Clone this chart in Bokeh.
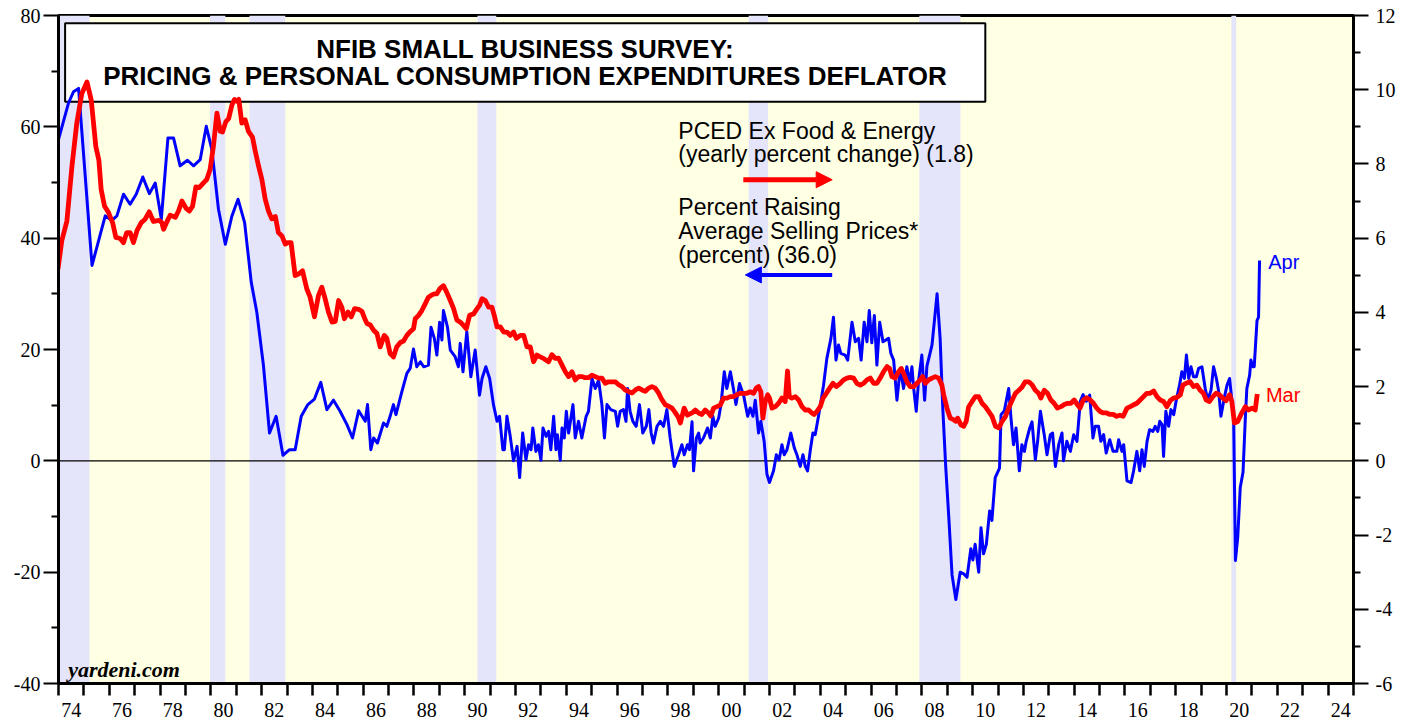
from bokeh.plotting import figure
from bokeh.models import (Range1d, LinearAxis, FixedTicker, CustomJSTickFormatter,
                          BoxAnnotation, Span, Label, Arrow, NormalHead, ColumnDataSource)
from bokeh.embed import file_html
from bokeh.resources import INLINE

# ---------------- data ----------------
# NFIB: percent raising average selling prices (left axis, percent)
blue_dates = [1973.98, 1974.39, 1974.59, 1974.79, 1975.32, 1975.84, 1976.10, 1976.30, 1976.56, 1976.82,
              1977.06, 1977.32, 1977.58, 1977.81, 1978.05, 1978.31, 1978.53, 1978.79, 1979.08, 1979.32,
              1979.58, 1979.82, 1980.04, 1980.30, 1980.57, 1980.83, 1981.07, 1981.33, 1981.59, 1981.81,
              1982.07, 1982.31, 1982.57, 1982.84, 1983.10, 1983.32, 1983.56, 1983.82, 1984.08, 1984.33,
              1984.57, 1984.83, 1985.09, 1985.36, 1985.58, 1985.82, 1986.08, 1986.17, 1986.30, 1986.41,
              1986.56, 1986.80, 1986.93, 1987.06, 1987.19, 1987.29, 1987.52, 1987.72, 1987.85, 1987.98,
              1988.11, 1988.25, 1988.38, 1988.57, 1988.67, 1988.80, 1988.90, 1989.01, 1989.10, 1989.16,
              1989.32, 1989.43, 1989.62, 1989.75, 1989.82, 1989.93, 1990.08, 1990.24, 1990.41, 1990.58,
              1990.68, 1990.83, 1990.98, 1991.13, 1991.27, 1991.37, 1991.50, 1991.56, 1991.66, 1991.79,
              1991.92, 1992.06, 1992.16, 1992.28, 1992.41, 1992.51, 1992.61, 1992.68, 1992.80, 1992.90,
              1993.00, 1993.08, 1993.20, 1993.30, 1993.39, 1993.50, 1993.59, 1993.65, 1993.76, 1993.83,
              1993.92, 1994.00, 1994.09, 1994.26, 1994.35, 1994.48, 1994.61, 1994.78, 1994.87, 1995.01,
              1995.14, 1995.27, 1995.40, 1995.50, 1995.60, 1995.75, 1995.93, 1996.02, 1996.12, 1996.25,
              1996.35, 1996.41, 1996.51, 1996.62, 1996.75, 1996.88, 1997.01, 1997.15, 1997.25, 1997.34,
              1997.43, 1997.57, 1997.70, 1997.83, 1997.96, 1998.09, 1998.25, 1998.42, 1998.55, 1998.64,
              1998.77, 1998.85, 1998.95, 1999.01, 1999.12, 1999.21, 1999.27, 1999.40, 1999.56, 1999.67,
              1999.77, 1999.86, 2000.00, 2000.09, 2000.22, 2000.32, 2000.46, 2000.59, 2000.68, 2000.82,
              2000.98, 2001.14, 2001.24, 2001.35, 2001.44, 2001.57, 2001.66, 2001.79, 2001.90, 2002.00,
              2002.16, 2002.27, 2002.38, 2002.49, 2002.58, 2002.69, 2002.84, 2002.98, 2003.08, 2003.21,
              2003.32, 2003.41, 2003.50, 2003.61, 2003.71, 2003.80, 2003.93, 2004.13, 2004.26, 2004.42,
              2004.52, 2004.62, 2004.72, 2004.81, 2004.98, 2005.08, 2005.25, 2005.38, 2005.51, 2005.61,
              2005.73, 2005.84, 2005.93, 2006.03, 2006.13, 2006.23, 2006.34, 2006.47, 2006.69, 2006.78,
              2006.89, 2007.02, 2007.15, 2007.28, 2007.41, 2007.52, 2007.61, 2007.68, 2007.78, 2007.87,
              2008.00, 2008.11, 2008.20, 2008.40, 2008.60, 2008.72, 2008.83, 2008.94, 2009.06, 2009.19,
              2009.34, 2009.51, 2009.65, 2009.78, 2009.93, 2010.01, 2010.10, 2010.24, 2010.33, 2010.43,
              2010.54, 2010.67, 2010.76, 2010.89, 2011.06, 2011.12, 2011.25, 2011.42, 2011.51, 2011.61,
              2011.71, 2011.84, 2011.94, 2012.04, 2012.11, 2012.25, 2012.34, 2012.47, 2012.56, 2012.67,
              2012.82, 2012.93, 2013.06, 2013.15, 2013.26, 2013.39, 2013.52, 2013.58, 2013.71, 2013.85,
              2013.98, 2014.11, 2014.24, 2014.35, 2014.48, 2014.61, 2014.74, 2014.83, 2014.96, 2015.05,
              2015.16, 2015.26, 2015.40, 2015.53, 2015.68, 2015.75, 2015.88, 2015.95, 2016.08, 2016.24,
              2016.34, 2016.47, 2016.58, 2016.67, 2016.76, 2016.87, 2016.97, 2017.10, 2017.19, 2017.29,
              2017.37, 2017.46, 2017.52, 2017.61, 2017.72, 2017.81, 2017.92, 2018.02, 2018.15, 2018.24,
              2018.34, 2018.42, 2018.51, 2018.60, 2018.70, 2018.81, 2018.90, 2019.03, 2019.16, 2019.26,
              2019.39, 2019.49, 2019.60, 2019.69, 2019.78, 2019.91, 2020.02, 2020.12, 2020.28, 2020.35,
              2020.44, 2020.54, 2020.65, 2020.74, 2020.80, 2020.91, 2020.96, 2021.04, 2021.09, 2021.20,
              2021.26, 2021.30]
blue_vals = [57.4, 64.2, 66.3, 66.9, 35.1, 44.0, 43.2, 44.0, 47.9, 46.1,
             47.9, 51.0, 48.0, 49.9, 43.4, 58.0, 58.0, 53.0, 54.0, 53.0,
             54.1, 60.1, 55.9, 45.2, 38.9, 44.0, 47.0, 42.8, 32.1, 26.7,
             17.2, 5.0, 8.0, 1.0, 2.0, 2.0, 8.0, 10.1, 11.1, 14.1,
             9.2, 10.9, 8.9, 6.5, 4.1, 9.0, 7.1, 10.1, 2.0, 4.1,
             3.2, 6.8, 6.2, 8.0, 10.1, 8.3, 12.4, 15.7, 16.6, 20.1,
             16.9, 17.8, 16.9, 17.2, 24.0, 22.0, 19.0, 24.9, 21.7, 27.0,
             24.0, 19.9, 18.7, 16.9, 21.1, 16.0, 23.2, 15.1, 19.9, 11.8,
             14.8, 16.9, 14.8, 10.1, 7.1, 8.0, 2.0, 2.0, 8.0, 4.4,
             0.0, 2.6, -3.0, 5.0, 0.2, 2.9, 2.0, 5.9, 1.7, 2.9,
             0.1, 5.9, 4.4, 5.3, 2.0, 8.0, 2.0, 4.7, 0.1, 5.9,
             4.1, 8.9, 5.0, 10.1, 4.1, 7.1, 4.1, 8.0, 8.9, 14.8,
             13.0, 14.5, 10.1, 4.1, 10.1, 9.2, 8.9, 6.2, 8.9, 9.2,
             7.1, 13.0, 8.9, 7.1, 6.2, 10.1, 5.0, 6.2, 9.2, 5.0,
             3.2, 6.2, 7.1, 6.2, 9.2, 4.1, -1.0, 1.1, 2.9, 1.1,
             2.9, 2.0, 7.0, -1.8, 4.1, 5.0, 3.2, 4.1, 5.9, 4.1,
             8.0, 6.2, 7.7, 10.1, 16.0, 13.0, 16.0, 12.7, 10.1, 13.9,
             11.8, 8.0, 9.5, 8.0, 10.9, 5.0, 7.1, 3.5, -2.4, -3.9,
             -1.8, 1.1, 0.2, 2.9, 1.1, 2.0, 5.0, 2.3, 1.1, -1.0,
             1.1, -1.0, -1.8, 2.0, 5.0, 4.7, 8.0, 13.6, 18.4, 22.0,
             25.8, 18.1, 20.8, 19.3, 19.0, 18.1, 24.9, 21.4, 22.0, 18.1,
             24.9, 21.4, 27.0, 21.2, 26.1, 17.2, 24.9, 21.4, 22.0, 19.3,
             18.1, 10.9, 16.6, 13.0, 16.9, 14.0, 16.9, 13.0, 8.9, 14.3,
             19.0, 10.9, 17.0, 20.8, 30.0, 22.0, 9.0, -1.0, -10.0, -20.5,
             -24.9, -20.0, -20.3, -20.9, -15.8, -17.8, -15.0, -20.0, -12.0, -16.7,
             -15.0, -9.0, -10.7, -3.0, -1.3, 8.3, 9.0, 13.0, 7.7, 2.9,
             5.9, -1.8, 2.9, 1.7, 3.5, 5.9, 7.0, 0.2, 3.5, 8.9,
             4.7, 1.1, 4.7, 5.0, -1.0, 2.9, 5.0, 0.0, 3.5, 1.7,
             4.7, 3.5, 10.7, 11.9, 10.7, 11.8, 4.1, 6.2, 6.2, 3.5,
             4.7, 1.4, 3.8, 1.7, 1.7, 3.8, 1.7, 2.9, -3.6, -3.9,
             -1.8, 1.7, -1.8, 2.0, -1.0, 3.5, 5.6, 5.3, 6.2, 5.3,
             7.1, 6.5, 0.8, 8.9, 6.2, 9.2, 8.3, 10.9, 13.6, 16.0,
             14.8, 19.0, 14.8, 16.9, 15.1, 15.1, 16.6, 16.9, 13.0, 10.9,
             12.7, 16.9, 14.8, 12.5, 8.0, 11.3, 13.6, 14.8, 7.7, -17.9,
             -13.8, -4.8, -2.0, 7.7, 13.0, 15.4, 18.1, 16.9, 16.9, 25.2,
             25.8, 36.0]

# Core PCE deflator, yearly percent change (right axis, percent)
red_dates = [1973.98, 1974.13, 1974.33, 1974.53, 1974.72, 1974.92, 1975.12, 1975.29, 1975.47, 1975.59,
             1975.68, 1975.81, 1975.97, 1976.13, 1976.26, 1976.43, 1976.56, 1976.69, 1976.82, 1976.95,
             1977.09, 1977.26, 1977.41, 1977.57, 1977.74, 1977.96, 1978.07, 1978.14, 1978.28, 1978.40,
             1978.60, 1978.73, 1978.86, 1979.02, 1979.15, 1979.28, 1979.41, 1979.54, 1979.71, 1979.84,
             1979.97, 1980.10, 1980.24, 1980.37, 1980.46, 1980.59, 1980.70, 1980.83, 1980.93, 1981.03,
             1981.10, 1981.22, 1981.35, 1981.48, 1981.64, 1981.75, 1981.88, 1982.01, 1982.14, 1982.27,
             1982.40, 1982.54, 1982.66, 1982.80, 1982.93, 1983.03, 1983.16, 1983.32, 1983.45, 1983.61,
             1983.78, 1983.91, 1984.08, 1984.24, 1984.37, 1984.50, 1984.63, 1984.77, 1984.90, 1985.03,
             1985.16, 1985.26, 1985.40, 1985.53, 1985.66, 1985.82, 1985.95, 1986.08, 1986.15, 1986.28,
             1986.41, 1986.54, 1986.67, 1986.83, 1986.93, 1987.06, 1987.19, 1987.32, 1987.46, 1987.59,
             1987.72, 1987.85, 1987.98, 1988.05, 1988.18, 1988.31, 1988.44, 1988.57, 1988.70, 1988.80,
             1988.90, 1989.03, 1989.16, 1989.29, 1989.43, 1989.56, 1989.69, 1989.82, 1989.95, 1990.06,
             1990.19, 1990.35, 1990.48, 1990.58, 1990.68, 1990.81, 1990.94, 1991.07, 1991.16, 1991.27,
             1991.40, 1991.53, 1991.66, 1991.79, 1991.92, 1992.03, 1992.19, 1992.32, 1992.45, 1992.58,
             1992.71, 1992.84, 1992.97, 1993.10, 1993.30, 1993.43, 1993.56, 1993.69, 1993.83, 1993.96,
             1994.09, 1994.22, 1994.35, 1994.48, 1994.61, 1994.74, 1994.87, 1995.01, 1995.14, 1995.27,
             1995.40, 1995.53, 1995.66, 1995.79, 1995.93, 1996.06, 1996.19, 1996.32, 1996.45, 1996.59,
             1996.72, 1996.85, 1996.98, 1997.11, 1997.24, 1997.37, 1997.50, 1997.63, 1997.77, 1997.90,
             1998.03, 1998.16, 1998.29, 1998.42, 1998.49, 1998.64, 1998.77, 1998.95, 1999.08, 1999.21,
             1999.34, 1999.47, 1999.60, 1999.69, 1999.80, 1999.93, 2000.06, 2000.19, 2000.32, 2000.46,
             2000.59, 2000.72, 2000.85, 2000.98, 2001.11, 2001.24, 2001.37, 2001.48, 2001.57, 2001.66,
             2001.74, 2001.83, 2001.93, 2002.00, 2002.10, 2002.23, 2002.36, 2002.49, 2002.62, 2002.71,
             2002.78, 2002.88, 2003.02, 2003.15, 2003.28, 2003.41, 2003.54, 2003.67, 2003.76, 2003.87,
             2004.00, 2004.11, 2004.24, 2004.37, 2004.50, 2004.63, 2004.79, 2004.92, 2005.05, 2005.18,
             2005.31, 2005.44, 2005.58, 2005.71, 2005.84, 2005.97, 2006.10, 2006.23, 2006.36, 2006.49,
             2006.63, 2006.73, 2006.82, 2006.95, 2007.08, 2007.19, 2007.28, 2007.41, 2007.54, 2007.68,
             2007.81, 2007.94, 2008.03, 2008.14, 2008.27, 2008.40, 2008.53, 2008.66, 2008.79, 2008.86,
             2008.99, 2009.12, 2009.25, 2009.34, 2009.41, 2009.54, 2009.65, 2009.75, 2009.84, 2009.98,
             2010.11, 2010.24, 2010.37, 2010.50, 2010.63, 2010.77, 2010.90, 2011.03, 2011.16, 2011.29,
             2011.42, 2011.56, 2011.69, 2011.82, 2011.95, 2012.07, 2012.21, 2012.34, 2012.47, 2012.60,
             2012.69, 2012.82, 2012.95, 2013.08, 2013.21, 2013.34, 2013.48, 2013.61, 2013.74, 2013.87,
             2014.00, 2014.13, 2014.23, 2014.36, 2014.49, 2014.63, 2014.76, 2014.89, 2015.02, 2015.15,
             2015.28, 2015.41, 2015.54, 2015.67, 2015.80, 2015.93, 2016.08, 2016.21, 2016.34, 2016.47,
             2016.60, 2016.73, 2016.86, 2016.99, 2017.13, 2017.26, 2017.39, 2017.52, 2017.65, 2017.78,
             2017.91, 2018.05, 2018.18, 2018.28, 2018.41, 2018.57, 2018.70, 2018.83, 2018.96, 2019.09,
             2019.20, 2019.33, 2019.46, 2019.59, 2019.72, 2019.85, 2019.98, 2020.12, 2020.21, 2020.31,
             2020.44, 2020.57, 2020.74, 2020.87, 2021.00, 2021.13, 2021.21]
red_vals = [5.17, 5.93, 6.46, 7.94, 9.10, 9.90, 10.21, 9.72, 8.47, 8.10,
            7.31, 6.87, 6.69, 6.42, 6.02, 5.99, 5.88, 6.15, 6.15, 5.88,
            6.20, 6.42, 6.51, 6.71, 6.45, 6.48, 6.42, 6.24, 6.46, 6.62,
            6.56, 6.74, 7.00, 6.81, 6.73, 6.86, 7.38, 7.36, 7.49, 7.58,
            7.85, 8.47, 9.37, 8.88, 8.86, 9.14, 9.22, 9.59, 9.74, 9.69,
            9.74, 9.10, 9.19, 8.88, 8.72, 8.34, 7.94, 7.58, 7.05, 6.73,
            6.52, 6.58, 6.15, 6.06, 5.84, 5.88, 5.88, 4.99, 5.03, 5.12,
            4.63, 4.41, 3.88, 4.46, 4.68, 4.37, 4.01, 3.74, 3.76, 4.32,
            4.14, 3.83, 4.01, 3.88, 4.10, 4.08, 4.03, 3.80, 3.70, 3.66,
            3.52, 3.43, 3.07, 3.38, 3.30, 2.89, 2.80, 3.07, 3.19, 3.23,
            3.38, 3.48, 3.56, 3.83, 3.92, 4.05, 4.23, 4.41, 4.47, 4.50,
            4.50, 4.65, 4.72, 4.54, 4.32, 4.10, 3.79, 3.74, 3.65, 3.56,
            3.92, 3.96, 4.10, 4.19, 4.37, 4.32, 4.14, 4.14, 3.92, 3.61,
            3.61, 3.47, 3.47, 3.38, 3.47, 3.30, 3.38, 3.38, 3.07, 3.07,
            2.67, 2.85, 2.80, 2.76, 2.67, 2.86, 2.76, 2.77, 2.58, 2.40,
            2.27, 2.40, 2.18, 2.27, 2.27, 2.24, 2.24, 2.31, 2.27, 2.23,
            2.23, 2.09, 2.13, 2.13, 2.13, 2.05, 2.00, 1.91, 1.87, 1.83,
            1.91, 1.96, 1.91, 1.87, 1.96, 2.00, 1.96, 1.83, 1.64, 1.51,
            1.47, 1.42, 1.30, 1.16, 1.02, 1.42, 1.23, 1.29, 1.37, 1.29,
            1.25, 1.37, 1.29, 1.21, 1.42, 1.46, 1.50, 1.69, 1.69, 1.73,
            1.73, 1.78, 1.82, 1.82, 1.82, 1.86, 1.82, 1.96, 2.00, 1.86,
            1.15, 1.59, 1.78, 1.69, 1.42, 1.46, 1.55, 1.69, 1.60, 2.42,
            1.73, 1.69, 1.73, 1.64, 1.46, 1.37, 1.37, 1.29, 1.25, 1.33,
            1.46, 1.69, 1.82, 1.96, 2.09, 2.00, 2.09, 2.18, 2.23, 2.25,
            2.23, 2.09, 2.04, 2.09, 2.18, 2.23, 2.09, 2.09, 2.23, 2.40,
            2.54, 2.49, 2.27, 2.23, 2.40, 2.49, 2.36, 2.13, 2.00, 2.00,
            2.09, 2.18, 2.27, 2.09, 2.18, 2.23, 2.27, 2.23, 2.04, 1.78,
            1.42, 1.15, 1.11, 1.07, 1.15, 0.97, 0.93, 1.07, 1.45, 1.60,
            1.73, 1.73, 1.55, 1.46, 1.33, 1.19, 0.93, 0.89, 1.06, 1.19,
            1.42, 1.64, 1.82, 1.90, 1.99, 2.13, 2.13, 2.05, 1.90, 1.82,
            1.69, 1.90, 1.82, 1.64, 1.55, 1.42, 1.46, 1.52, 1.55, 1.55,
            1.64, 1.51, 1.42, 1.64, 1.70, 1.64, 1.55, 1.42, 1.33, 1.29,
            1.29, 1.25, 1.25, 1.20, 1.23, 1.20, 1.42, 1.46, 1.51, 1.55,
            1.64, 1.73, 1.82, 1.82, 1.88, 1.73, 1.64, 1.60, 1.46, 1.62,
            1.69, 1.71, 1.78, 2.04, 2.09, 2.13, 2.00, 2.04, 1.90, 1.82,
            1.64, 1.60, 1.73, 1.82, 1.78, 1.69, 1.62, 1.78, 1.60, 1.02,
            1.06, 1.25, 1.46, 1.37, 1.42, 1.37, 1.80]

# recessions (decimal years)
rec_start = [1973.83, 1979.97, 1981.52, 1990.50, 2001.18, 2007.90, 2020.19]
rec_end = [1975.22, 1980.57, 1982.93, 1991.24, 2001.94, 2009.52, 2020.38]

# axis ticks
year_bounds = list(range(1974, 2026))
label_years = [y + 0.5 for y in range(1974, 2025, 2)]
left_major = [-40, -20, 0, 20, 40, 60, 80]
left_minor = [-30, -10, 10, 30, 50, 70]
right_major = [-6, -4, -2, 0, 2, 4, 6, 8, 10, 12]
right_minor = [-5, -3, -1, 1, 3, 5, 7, 9, 11]

title_lines = ["NFIB SMALL BUSINESS SURVEY:",
               "PRICING & PERSONAL CONSUMPTION EXPENDITURES DEFLATOR"]
pce_lines = ["PCED Ex Food & Energy", "(yearly percent change) (1.8)"]
nfib_lines = ["Percent Raising", "Average Selling Prices*", "(percent) (36.0)"]

# ---------------- figure ----------------
BG = "#ffffe3"
REC = "#e4e4fa"
SANS = "Liberation Sans"
SERIF = "Liberation Serif"

p = figure(width=1413, height=719, x_range=Range1d(1974, 2025), y_range=Range1d(-40, 80),
           output_backend="svg", toolbar_location=None,
           min_border_left=58, min_border_right=60, min_border_top=15, min_border_bottom=32,
           background_fill_color=BG, border_fill_color="white")
p.extra_y_ranges = {"pce": Range1d(-6, 12)}
p.xgrid.visible = False
p.ygrid.visible = False
p.outline_line_color = "black"
p.outline_line_width = 3

num_fmt = "return String(tick);"

# x axis
xa = p.xaxis[0]
xa.ticker = FixedTicker(ticks=label_years, minor_ticks=year_bounds)
xa.formatter = CustomJSTickFormatter(code="var y = Math.floor(tick) % 100; return (y < 10 ? '0' : '') + y;")
xa.major_tick_out = 0
xa.major_tick_in = 0
xa.minor_tick_out = 12
xa.minor_tick_in = 0
xa.minor_tick_line_width = 2.5
xa.minor_tick_line_color = "black"
xa.axis_line_width = 3
xa.major_label_standoff = 7
xa.major_label_text_font = SERIF
xa.major_label_text_font_size = "20px"
xa.major_label_text_color = "black"

# left axis
ya = p.yaxis[0]
ya.ticker = FixedTicker(ticks=left_major, minor_ticks=left_minor)
ya.formatter = CustomJSTickFormatter(code=num_fmt)
ya.major_tick_out = 15
ya.major_tick_in = 0
ya.minor_tick_out = 7
ya.minor_tick_in = 0
ya.major_tick_line_width = 2
ya.minor_tick_line_width = 2
ya.axis_line_width = 3
ya.major_label_standoff = 3
ya.major_label_text_font = SERIF
ya.major_label_text_font_size = "20px"
ya.major_label_text_color = "black"

# right axis
ra = LinearAxis(y_range_name="pce", ticker=FixedTicker(ticks=right_major, minor_ticks=right_minor),
                formatter=CustomJSTickFormatter(code=num_fmt))
ra.major_tick_out = 15
ra.major_tick_in = 0
ra.minor_tick_out = 7
ra.minor_tick_in = 0
ra.major_tick_line_width = 2
ra.minor_tick_line_width = 2
ra.axis_line_width = 3
ra.major_label_standoff = 7
ra.major_label_text_font = SERIF
ra.major_label_text_font_size = "20px"
ra.major_label_text_color = "black"
p.add_layout(ra, "right")

# recession bands
for s, e in zip(rec_start, rec_end):
    p.add_layout(BoxAnnotation(left=s, right=e, fill_color=REC, fill_alpha=1.0,
                               line_alpha=0, level="underlay"))

# zero line
p.add_layout(Span(location=0, dimension="width", line_color="black", line_width=1.3, level="underlay"))

# title box
p.add_layout(BoxAnnotation(left=1974.26, right=2010.50, bottom=64.5, top=78.6,
                           fill_color="white", fill_alpha=1.0, line_color="black",
                           line_alpha=1.0, line_width=2, level="underlay"))
for txt, yy in zip(title_lines, [73.9, 69.2]):
    p.add_layout(Label(x=1992.38, y=yy, text=txt, text_align="center", text_baseline="alphabetic",
                       text_font=SANS, text_font_style="bold", text_font_size="26px",
                       text_color="black"))

# series
blue_src = ColumnDataSource(dict(x=blue_dates, y=blue_vals))
red_src = ColumnDataSource(dict(x=red_dates, y=red_vals))
p.line("x", "y", source=blue_src, line_color="#0000ff", line_width=3, line_join="round")
p.line("x", "y", source=red_src, line_color="#ff0000", line_width=4.8, line_join="round",
       y_range_name="pce")

# legend texts
for txt, yy in zip(pce_lines, [59.3, 55.2]):
    p.add_layout(Label(x=1998.41, y=yy, text=txt, text_align="left", text_baseline="alphabetic",
                       text_font=SANS, text_font_size="23px", text_color="black"))
for txt, yy in zip(nfib_lines, [45.55, 41.25, 36.95]):
    p.add_layout(Label(x=1998.41, y=yy, text=txt, text_align="left", text_baseline="alphabetic",
                       text_font=SANS, text_font_size="23px", text_color="black"))

p.add_layout(Arrow(end=NormalHead(size=16, fill_color="#ff0000", line_color="#ff0000"),
                   x_start=2000.97, y_start=50.5, x_end=2004.47, y_end=50.5,
                   line_color="#ff0000", line_width=5))
p.add_layout(Arrow(end=NormalHead(size=16, fill_color="#0000ff", line_color="#0000ff"),
                   x_start=2004.47, y_start=33.4, x_end=2001.05, y_end=33.4,
                   line_color="#0000ff", line_width=4))

# end labels
p.add_layout(Label(x=2021.64, y=35.8, text="Apr", text_align="left", text_baseline="alphabetic",
                   text_font=SANS, text_font_size="20px", text_color="#0000ff"))
p.add_layout(Label(x=2021.55, y=11.9, text="Mar", text_align="left", text_baseline="alphabetic",
                   text_font=SANS, text_font_size="20px", text_color="#ff0000"))

# source
p.add_layout(Label(x=1974.38, y=-37.5, text="yardeni.com", text_align="left",
                   text_baseline="alphabetic", text_font=SERIF, text_font_style="bold italic",
                   text_font_size="22px", text_color="black"))

open("out.html", "w").write(file_html(p, INLINE))
